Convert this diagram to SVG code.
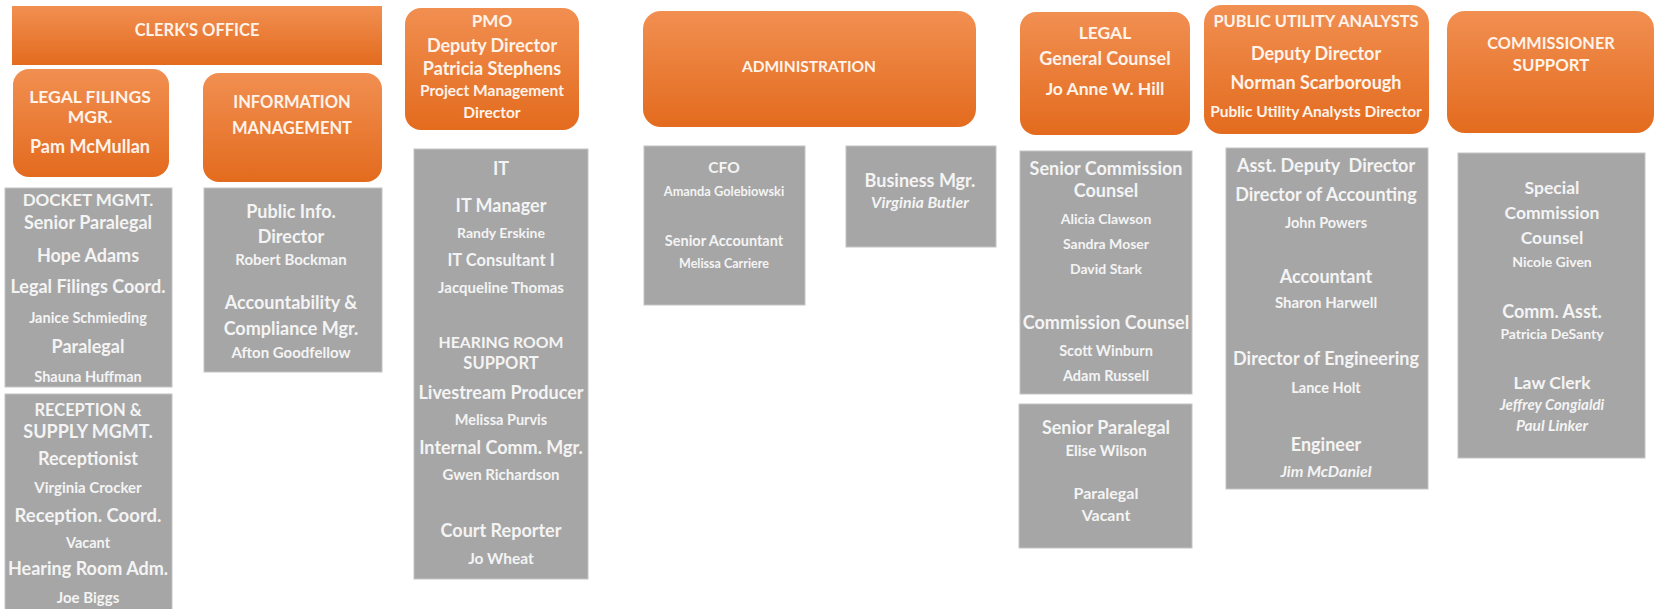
<svg xmlns="http://www.w3.org/2000/svg" width="1656" height="609" viewBox="0 0 1656 609">
<defs>
<linearGradient id="og" x1="0" y1="0" x2="0" y2="1">
<stop offset="0" stop-color="#f18f51"/>
<stop offset="1" stop-color="#e36b1e"/>
</linearGradient>
<style>
.o{fill:url(#og);}
.g{fill:#a6a6a6;stroke:#c4c4c4;stroke-width:1;}
text{font-family:Lato,"Open Sans","Liberation Sans",sans-serif;font-weight:700;text-anchor:middle;}
.oh{fill:#fff3ea;font-size:17px;}
.t{fill:#f4f4f4;font-size:18px;}
.n{fill:#f4f4f4;font-size:14.5px;}
.i{font-style:italic;font-size:16px;}
</style>
</defs>
<rect width="1656" height="609" fill="#ffffff"/>
<g id="connectors"></g>
<g id="clerks-office"><rect class="o" x="12" y="6" width="370" height="59"/><text class="oh" x="197" y="36" style="font-size:16.5px">CLERK'S OFFICE</text></g>
<g id="legal-filings-mgr"><rect class="o" x="13" y="69" width="156" height="108" rx="16"/><text class="oh" x="90" y="103" style="font-size:17.5px">LEGAL FILINGS</text><text class="oh" x="90" y="123" style="font-size:17.5px">MGR.</text><text class="oh" x="90" y="153" style="font-size:18px">Pam McMullan</text></g>
<g id="information-management"><rect class="o" x="203" y="73" width="179" height="109" rx="16"/><text class="oh" x="292" y="108" style="font-size:16.5px">INFORMATION</text><text class="oh" x="292" y="134" style="font-size:16.5px">MANAGEMENT</text></g>
<g id="docket-mgmt"><rect class="g" x="5" y="188" width="167" height="199"/>
<text class="t" x="88" y="206" style="font-size:17px">DOCKET MGMT.</text><text class="t" x="88" y="229">Senior Paralegal</text><text class="t" x="88" y="262">Hope Adams</text><text class="t" x="88" y="293">Legal Filings Coord.</text><text class="n" x="88" y="323">Janice Schmieding</text><text class="t" x="88" y="353">Paralegal</text><text class="n" x="88" y="382">Shauna Huffman</text></g>
<g id="reception-supply"><rect class="g" x="5" y="394" width="167" height="220"/>
<text class="t" x="88" y="416" style="font-size:16.5px">RECEPTION &amp;</text><text class="t" x="88" y="438">SUPPLY MGMT.</text><text class="t" x="88" y="465">Receptionist</text><text class="n" x="88" y="493" style="font-size:15px">Virginia Crocker</text><text class="t" x="88" y="522" style="font-size:18.5px">Reception. Coord.</text><text class="n" x="88" y="548">Vacant</text><text class="t" x="88" y="575">Hearing Room Adm.</text><text class="n" x="88" y="603" style="font-size:15px">Joe Biggs</text></g>
<g id="public-info"><rect class="g" x="204" y="188" width="178" height="184"/>
<text class="t" x="291" y="218">Public Info.</text><text class="t" x="291" y="243">Director</text><text class="n" x="291" y="265" style="font-size:15px">Robert Bockman</text><text class="t" x="291" y="309">Accountability &amp;</text><text class="t" x="291" y="335">Compliance Mgr.</text><text class="n" x="291" y="358" style="font-size:15px">Afton Goodfellow</text></g>
<g id="pmo"><rect class="o" x="405" y="8" width="174" height="122" rx="16"/>
<text class="oh" x="492" y="27">PMO</text><text class="oh" x="492" y="52" style="font-size:18px">Deputy Director</text><text class="oh" x="492" y="75" style="font-size:18px">Patricia Stephens</text><text class="oh" x="492" y="96" style="font-size:15.5px">Project Management</text><text class="oh" x="492" y="118" style="font-size:15.5px">Director</text></g>
<g id="it"><rect class="g" x="414" y="149" width="174" height="430"/>
<text class="t" x="501" y="175">IT</text><text class="t" x="501" y="212">IT Manager</text><text class="n" x="501" y="238" style="font-size:14px">Randy Erskine</text><text class="t" x="501" y="266" style="font-size:16.5px">IT Consultant I</text><text class="n" x="501" y="293" style="font-size:15px">Jacqueline Thomas</text><text class="t" x="501" y="348" style="font-size:15.8px">HEARING ROOM</text><text class="t" x="501" y="369" style="font-size:16.5px">SUPPORT</text><text class="t" x="501" y="399">Livestream Producer</text><text class="n" x="501" y="425">Melissa Purvis</text><text class="t" x="501" y="454">Internal Comm. Mgr.</text><text class="n" x="501" y="480" style="font-size:15px">Gwen Richardson</text><text class="t" x="501" y="537">Court Reporter</text><text class="n" x="501" y="564" style="font-size:15.5px">Jo Wheat</text></g>
<g id="administration"><rect class="o" x="643" y="11" width="333" height="116" rx="18"/><text class="oh" x="809" y="72" style="font-size:15.5px">ADMINISTRATION</text></g>
<g id="cfo"><rect class="g" x="644" y="146" width="161" height="159"/>
<text class="t" x="724" y="173" style="font-size:15.5px">CFO</text><text class="n" x="724" y="196" style="font-size:12.8px">Amanda Golebiowski</text><text class="t" x="724" y="246" style="font-size:14.5px">Senior Accountant</text><text class="n" x="724" y="268" style="font-size:12.5px">Melissa Carriere</text></g>
<g id="business-mgr"><rect class="g" x="846" y="146" width="150" height="101"/>
<text class="t" x="920" y="187">Business Mgr.</text><text class="n i" x="920" y="208">Virginia Butler</text></g>
<g id="legal"><rect class="o" x="1020" y="12" width="170" height="123" rx="16"/>
<text class="oh" x="1105" y="39" style="font-size:17.5px">LEGAL</text><text class="oh" x="1105" y="65" style="font-size:18px">General Counsel</text><text class="oh" x="1105" y="95" style="font-size:17.5px">Jo Anne W. Hill</text></g>
<g id="commission-counsel"><rect class="g" x="1020" y="151" width="172" height="243"/>
<text class="t" x="1106" y="175">Senior Commission</text><text class="t" x="1106" y="197">Counsel</text><text class="n" x="1106" y="224" style="font-size:14px">Alicia Clawson</text><text class="n" x="1106" y="249" style="font-size:14px">Sandra Moser</text><text class="n" x="1106" y="274" style="font-size:14px">David Stark</text><text class="t" x="1106" y="329">Commission Counsel</text><text class="n" x="1106" y="356">Scott Winburn</text><text class="n" x="1106" y="381">Adam Russell</text></g>
<g id="senior-paralegal"><rect class="g" x="1019" y="404" width="173" height="144"/>
<text class="t" x="1106" y="434">Senior Paralegal</text><text class="n" x="1106" y="456" style="font-size:15px">Elise Wilson</text><text class="n" x="1106" y="499" style="font-size:16px">Paralegal</text><text class="n" x="1106" y="521" style="font-size:16px">Vacant</text></g>
<g id="public-utility-analysts"><rect class="o" x="1204" y="5" width="225" height="129" rx="18"/>
<text class="oh" x="1316" y="27" style="font-size:16.4px">PUBLIC UTILITY ANALYSTS</text><text class="oh" x="1316" y="60" style="font-size:18px">Deputy Director</text><text class="oh" x="1316" y="89" style="font-size:18px">Norman Scarborough</text><text class="oh" x="1316" y="117" style="font-size:15.5px">Public Utility Analysts Director</text></g>
<g id="pua-staff"><rect class="g" x="1226" y="148" width="202" height="341"/>
<text class="t" x="1326" y="172" xml:space="preserve">Asst. Deputy  Director</text><text class="t" x="1326" y="201">Director of Accounting</text><text class="n" x="1326" y="228">John Powers</text><text class="t" x="1326" y="283">Accountant</text><text class="n" x="1326" y="308" style="font-size:15px">Sharon Harwell</text><text class="t" x="1326" y="365">Director of Engineering</text><text class="n" x="1326" y="393">Lance Holt</text><text class="t" x="1326" y="451">Engineer</text><text class="n i" x="1326" y="477">Jim McDaniel</text></g>
<g id="commissioner-support"><rect class="o" x="1447" y="11" width="207" height="122" rx="18"/>
<text class="oh" x="1551" y="49" style="font-size:16.3px">COMMISSIONER</text><text class="oh" x="1551" y="71" style="font-size:16.8px">SUPPORT</text></g>
<g id="commission-staff"><rect class="g" x="1458" y="153" width="187" height="305"/>
<text class="t" x="1552" y="194" style="font-size:17.5px">Special</text><text class="t" x="1552" y="219" style="font-size:17.5px">Commission</text><text class="t" x="1552" y="244" style="font-size:17.5px">Counsel</text><text class="n" x="1552" y="267" style="font-size:14px">Nicole Given</text><text class="t" x="1552" y="318">Comm. Asst.</text><text class="n" x="1552" y="339" style="font-size:14px">Patricia DeSanty</text><text class="t" x="1552" y="389" style="font-size:17.5px">Law Clerk</text><text class="n i" x="1552" y="410" style="font-size:15px">Jeffrey Congialdi</text><text class="n i" x="1552" y="431" style="font-size:15.5px">Paul Linker</text></g>
</svg>
